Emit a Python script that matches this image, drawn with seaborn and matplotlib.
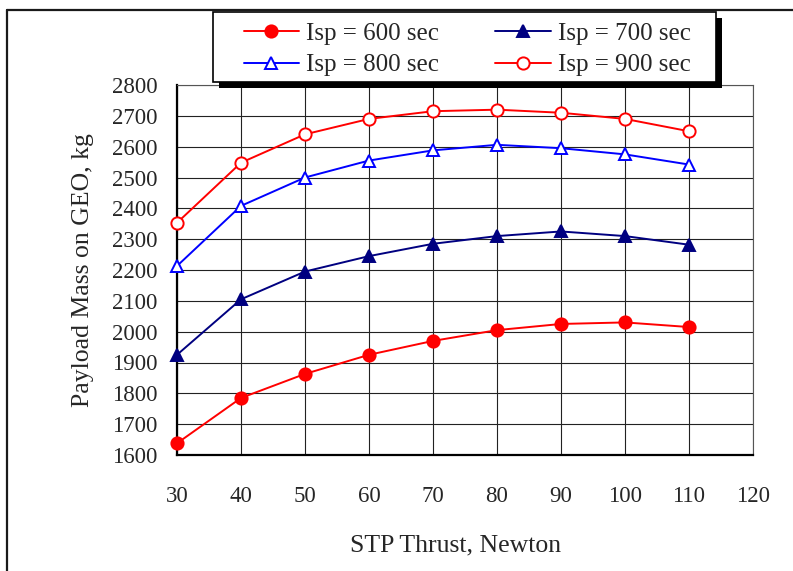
import pandas as pd
import matplotlib
matplotlib.use("Agg")
import matplotlib.pyplot as plt
from matplotlib.patches import Rectangle
from matplotlib.lines import Line2D
from matplotlib.ticker import MultipleLocator
import seaborn as sns

# STP thrust levels (N) and payload delivered to GEO (kg) per specific impulse
thrust = [30, 40, 50, 60, 70, 80, 90, 100, 110]
payload_600 = [1638, 1785, 1863, 1925, 1970, 2005, 2025, 2030, 2015]
payload_700 = [1925, 2105, 2195, 2245, 2285, 2310, 2325, 2310, 2282]
payload_800 = [2213, 2408, 2500, 2555, 2588, 2606, 2595, 2575, 2542]
payload_900 = [2353, 2548, 2640, 2690, 2715, 2720, 2710, 2690, 2650]
series_labels = ["Isp = 600 sec", "Isp = 700 sec", "Isp = 800 sec", "Isp = 900 sec"]
x_ticks = list(range(30, 121, 10))
y_ticks = list(range(1600, 2801, 100))

frames = []
for lab, vals in zip(series_labels, [payload_600, payload_700, payload_800, payload_900]):
    frames.append(pd.DataFrame({"thrust": thrust, "payload": vals, "series": lab}))
df = pd.concat(frames, ignore_index=True)

sns.set_style("white")
plt.rcParams["font.family"] = ["Liberation Serif", "DejaVu Serif"]

W, H = 793, 571
fig = plt.figure(figsize=(W / 100, H / 100), dpi=100)
ax = fig.add_axes([177 / W, 1 - 455 / H, 576 / W, 370 / H])

styles = {
    "Isp = 600 sec": dict(color="#FF0000", marker="o", markerfacecolor="#FF0000", markersize=8.8),
    "Isp = 700 sec": dict(color="#000080", marker="^", markerfacecolor="#000080", markersize=9.3),
    "Isp = 800 sec": dict(color="#0000FF", marker="^", markerfacecolor="white", markersize=9.3),
    "Isp = 900 sec": dict(color="#FF0000", marker="o", markerfacecolor="white", markersize=8.8),
}

for lab in series_labels:
    st = styles[lab]
    sns.lineplot(
        data=df[df["series"] == lab], x="thrust", y="payload", ax=ax,
        estimator=None, errorbar=None, legend=False, sort=True,
        color=st["color"], marker=st["marker"], markerfacecolor=st["markerfacecolor"],
        markeredgecolor=st["color"], markersize=st["markersize"], markeredgewidth=1.4,
        linewidth=1.4, clip_on=False, zorder=4,
    )

ax.set_xlim(x_ticks[0], x_ticks[-1])
ax.set_ylim(y_ticks[0], y_ticks[-1])
ax.set_xticks(x_ticks)
ax.set_yticks(y_ticks)
ax.xaxis.set_minor_locator(MultipleLocator(5))
ax.yaxis.set_minor_locator(MultipleLocator(50))
ax.grid(True, which="major", color="#222222", linewidth=0.8)
ax.set_axisbelow(True)

ax.tick_params(which="both", direction="in", color="black", width=1.1)
ax.tick_params(which="major", length=6)
ax.tick_params(which="minor", length=4.5)
ax.tick_params(axis="y", which="major", labelsize=16.5, pad=14)
ax.tick_params(axis="x", which="major", labelsize=16.5, pad=22)
ax.tick_params(top=False, right=False, which="both")

for side in ("left", "bottom"):
    ax.spines[side].set_color("black")
    ax.spines[side].set_linewidth(1.6)
for side in ("top", "right"):
    ax.spines[side].set_color("#555555")
    ax.spines[side].set_linewidth(0.8)

ax.set_xlabel("STP Thrust, Newton", fontsize=18.5)
ax.set_ylabel("Payload Mass on GEO, kg", fontsize=18.5)
ax.xaxis.label.set_va("center")
ax.yaxis.label.set_va("center")
ax.xaxis.set_label_coords((456 - 177) / 576, (455 - 545) / 370)
ax.yaxis.set_label_coords((83 - 177) / 576, 0.5)

# outer chart frame
fig.add_artist(Line2D([7 / W, 1.0], [1 - 9.5 / H, 1 - 9.5 / H], transform=fig.transFigure,
                      color="#1a1a1a", linewidth=1.6, zorder=1))
fig.add_artist(Line2D([7 / W, 7 / W], [0.0, 1 - 9.5 / H], transform=fig.transFigure,
                      color="#1a1a1a", linewidth=1.6, zorder=1))

# legend box with drop shadow
bx0, by0, bw, bh = 213, 12, 503, 70
fig.add_artist(Rectangle(((bx0 + 6) / W, 1 - (by0 + bh + 6) / H), bw / W, bh / H,
                         transform=fig.transFigure, facecolor="black", edgecolor="none", zorder=5))
fig.add_artist(Rectangle((bx0 / W, 1 - (by0 + bh) / H), bw / W, bh / H,
                         transform=fig.transFigure, facecolor="white", edgecolor="black",
                         linewidth=1.2, zorder=5.5))

lines = ax.get_lines()[:4]
order = [0, 2, 1, 3]
leg = fig.legend([lines[i] for i in order], [series_labels[i] for i in order],
                 ncol=2, loc="center", bbox_to_anchor=(467 / W, 1 - 49.5 / H),
                 frameon=False, fontsize=18, handlelength=2.2, handletextpad=0.28,
                 columnspacing=2.28, labelspacing=0.36, borderpad=0)
leg.set_zorder(6)

fig.savefig("out.png", dpi=100)
